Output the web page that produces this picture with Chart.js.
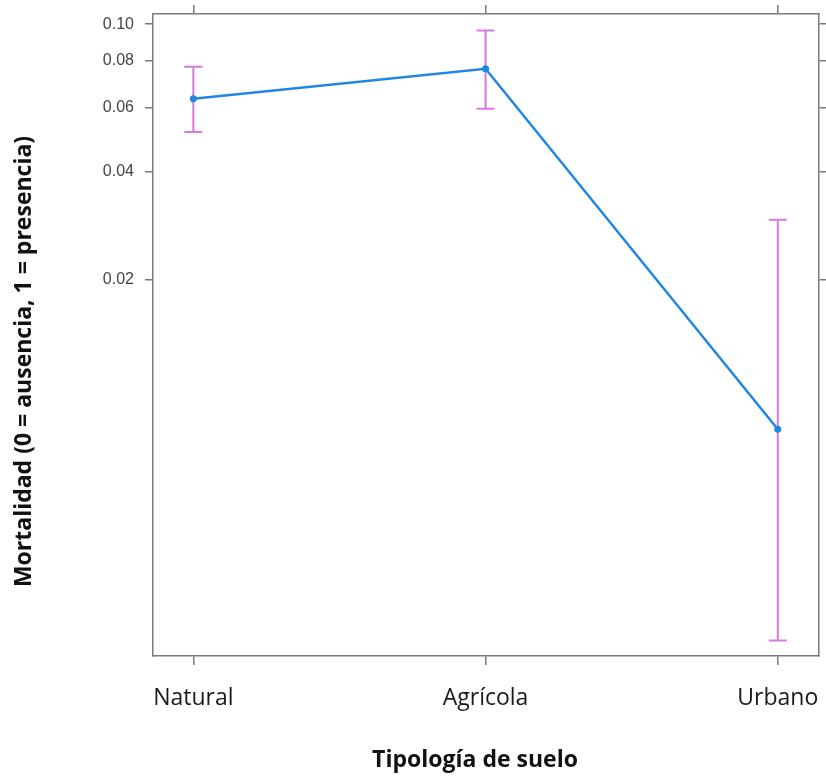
<!DOCTYPE html>
<html>
<head>
<meta charset="utf-8">
<script src="https://cdn.jsdelivr.net/npm/chart.js@4"></script>
<style>html,body{margin:0;padding:0;background:#fff}canvas{display:block}</style>
</head>
<body>
<canvas id="c" width="826" height="783"></canvas>
<script>
// ---- data (probabilities) ----
const categories = ['Natural', 'Agrícola', 'Urbano'];
const fitValues  = [0.0634, 0.0763, 0.00748];
const lowerCI    = [0.0515, 0.0596, 0.00185];
const upperCI    = [0.0773, 0.0963, 0.0294];
const yTickValues = [0.02, 0.04, 0.06, 0.08, 0.10];
const yTickLabels = ['0.02', '0.04', '0.06', '0.08', '0.10'];
const yTitle = 'Mortalidad (0 = ausencia, 1 = presencia)';
const xTitle = 'Tipología de suelo';

// axis limits (probability scale, displayed on logit scale)
const yMinProb = 0.00167, yMaxProb = 0.1062;
const xMin = -0.138, xMax = 2.141;

const logit = p => Math.log(p / (1 - p));

const lineColor = '#1f87e3';
const ciColor = '#d57ade';
const frameColor = '#7a7a7a';

const errorBars = {
  id: 'errorBars',
  beforeDatasetsDraw(chart) {
    const {ctx, scales: {x, y}} = chart;
    ctx.save();
    ctx.strokeStyle = ciColor;
    ctx.lineWidth = 2;
    const cap = 9;
    categories.forEach((c, i) => {
      const px = x.getPixelForValue(i);
      const yl = y.getPixelForValue(logit(lowerCI[i]));
      const yu = y.getPixelForValue(logit(upperCI[i]));
      ctx.beginPath();
      ctx.moveTo(px, yl); ctx.lineTo(px, yu);
      ctx.moveTo(px - cap, yl); ctx.lineTo(px + cap, yl);
      ctx.moveTo(px - cap, yu); ctx.lineTo(px + cap, yu);
      ctx.stroke();
    });
    ctx.restore();
  }
};

const axisTitles = {
  id: 'axisTitles',
  afterDraw(chart) {
    const {ctx} = chart;
    ctx.save();
    ctx.fillStyle = '#111';
    ctx.font = 'bold 23px "Open Sans"';
    ctx.textAlign = 'center';
    ctx.textBaseline = 'alphabetic';
    ctx.fillText(xTitle, 475, 767);
    ctx.translate(31, 361.5);
    ctx.rotate(-Math.PI / 2);
    ctx.fillText(yTitle, 0, 0);
    ctx.restore();
  }
};

const noPad = s => { s.paddingLeft = 0; s.paddingRight = 0; s.paddingTop = 0; s.paddingBottom = 0; };
const tickGrid = (len) => ({display: true, drawOnChartArea: false, drawTicks: true, tickLength: len, color: frameColor, lineWidth: 1.5});
const frameBorder = {display: true, color: frameColor, width: 1.5};

new Chart(document.getElementById('c'), {
  type: 'line',
  data: {
    datasets: [{
      data: fitValues.map((v, i) => ({x: i, y: logit(v)})),
      borderColor: lineColor,
      backgroundColor: lineColor,
      borderWidth: 2.5,
      pointRadius: 3.5,
      pointHoverRadius: 3.5,
      pointBorderWidth: 0,
      tension: 0,
      fill: false
    }]
  },
  options: {
    responsive: false,
    animation: false,
    devicePixelRatio: 1,
    layout: {padding: 0},
    plugins: {legend: {display: false}, tooltip: {enabled: false}},
    events: [],
    scales: {
      x: {
        type: 'linear', position: 'bottom', min: xMin, max: xMax,
        afterBuildTicks: s => { s.ticks = categories.map((c, i) => ({value: i})); },
        afterFit: s => { s.height = 127; noPad(s); },
        ticks: {callback: (v, i) => categories[i], color: '#1a1a1a', font: {family: 'Open Sans', size: 23}, padding: 20, maxRotation: 0, autoSkip: false},
        grid: tickGrid(9), border: frameBorder
      },
      x2: {
        type: 'linear', position: 'top', min: xMin, max: xMax,
        afterBuildTicks: s => { s.ticks = categories.map((c, i) => ({value: i})); },
        afterFit: s => { s.height = 14; noPad(s); },
        ticks: {display: false},
        grid: tickGrid(9), border: frameBorder
      },
      y: {
        type: 'linear', position: 'left', min: logit(yMinProb), max: logit(yMaxProb),
        afterBuildTicks: s => { s.ticks = yTickValues.map(v => ({value: logit(v)})); },
        afterFit: s => { s.width = 153; noPad(s); },
        ticks: {callback: (v, i) => yTickLabels[i], color: '#444', font: {family: 'Liberation Sans', size: 16}, padding: 11, autoSkip: false},
        grid: tickGrid(8), border: frameBorder
      },
      y2: {
        type: 'linear', position: 'right', min: logit(yMinProb), max: logit(yMaxProb),
        afterBuildTicks: s => { s.ticks = yTickValues.map(v => ({value: logit(v)})); },
        afterFit: s => { s.width = 7; noPad(s); },
        ticks: {display: false},
        grid: tickGrid(7), border: frameBorder
      }
    }
  },
  plugins: [errorBars, axisTitles]
});
</script>
</body>
</html>
